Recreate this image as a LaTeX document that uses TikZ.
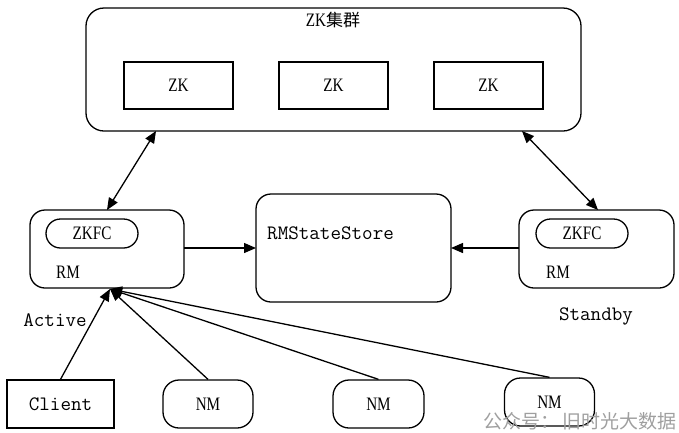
\documentclass[tikz,border=0pt]{standalone}
\usepackage{fontspec}
\newfontfamily\nserif[FakeStretch=0.8]{Liberation Serif}
\newfontfamily\cjk{Noto Sans CJK SC}
\usetikzlibrary{arrows.meta}
\begin{document}
\begin{tikzpicture}[x=1pt,y=-1pt,
  box/.style={draw,line width=1.3pt,rounded corners=#1},
  box/.default=0pt,
  lbl/.style={font=\nserif\fontsize{19}{21}\selectfont,inner sep=0pt},
  mlbl/.style={font=\ttfamily\fontsize{20.5}{22}\selectfont,inner sep=0pt},
  arr/.style={line width=1.3pt,-{Triangle[length=12pt,width=10pt]}},
  darr/.style={line width=1.3pt,{Triangle[length=12pt,width=10pt]}-{Triangle[length=12pt,width=10pt]}}]
\useasboundingbox (0,0) rectangle (679,432);
% ZK cluster
\draw[box=18pt] (86,8) rectangle (581,131);
\node[lbl] (zkt) at (333,20) {ZK{\cjk\fontsize{17}{19}\selectfont 集群}};
\node[box,minimum width=109pt,minimum height=47pt,lbl] (zk1) at (178.5,85.5) {ZK};
\node[box,minimum width=109pt,minimum height=47pt,lbl] (zk2) at (333.5,85.5) {ZK};
\node[box,minimum width=109pt,minimum height=47pt,lbl] (zk3) at (488.5,85.5) {ZK};
\coordinate (zkbl) at (156,131);
\coordinate (zkbr) at (522,131);
% RM left
\draw[box=15pt] (30,210) rectangle (184,288);
\node[draw,line width=1.3pt,rounded corners=14.5pt,minimum width=92pt,minimum height=29pt,lbl] (zkfcl) at (92,233.5) {ZKFC};
\node[lbl] (rml) at (68,272) {RM};
\coordinate (rmlt) at (107,210);
\coordinate (rmlr) at (184,248);
\coordinate (rmlb) at (110,289);
% RM right
\draw[box=15pt] (519,210) rectangle (674,288);
\node[draw,line width=1.3pt,rounded corners=14.5pt,minimum width=92pt,minimum height=29pt,lbl] (zkfcr) at (582,233.5) {ZKFC};
\node[lbl] (rmr) at (558,272) {RM};
\coordinate (rmrt) at (598,210);
\coordinate (rmrl) at (519,248);
% RMStateStore
\draw[box=15pt] (256,194) rectangle (451,302);
\node[mlbl,anchor=west] (rms) at (267,233) {RMStateStore};
\coordinate (rmsl) at (256,248);
\coordinate (rmsr) at (451,248);
% labels
\node[mlbl] (stb) at (596,316) {Standby};
\node[mlbl] (act) at (55,320) {Active};
% bottom nodes
\node[box,minimum width=107pt,minimum height=48pt,mlbl] (client) at (60.5,404) {Client};
\node[draw,line width=1.3pt,rounded corners=16pt,minimum width=90pt,minimum height=48pt,lbl] (nm1) at (208,404) {NM};
\node[draw,line width=1.3pt,rounded corners=16pt,minimum width=91pt,minimum height=48pt,lbl] (nm2) at (378.5,404) {NM};
\node[draw,line width=1.3pt,rounded corners=16pt,minimum width=90pt,minimum height=48pt,lbl] (nm3) at (549.5,402) {NM};
% connectors
\draw[darr] (rmlt) -- (zkbl);
\draw[darr] (zkbr) -- (rmrt);
\draw[arr] (rmlr) -- (rmsl);
\draw[arr] (rmrl) -- (rmsr);
\draw[arr] (client.north) -- (rmlb);
\draw[arr] (nm1.north) -- (rmlb);
\draw[arr] (nm2.north) -- (rmlb);
\draw[arr] (nm3.north) -- (rmlb);
% watermark
\node[font=\cjk\fontsize{19}{21}\selectfont,text=gray!75,anchor=east,inner sep=0pt] (wm) at (677,421.5) {公众号：\,旧时光大数据};
\end{tikzpicture}
\end{document}
